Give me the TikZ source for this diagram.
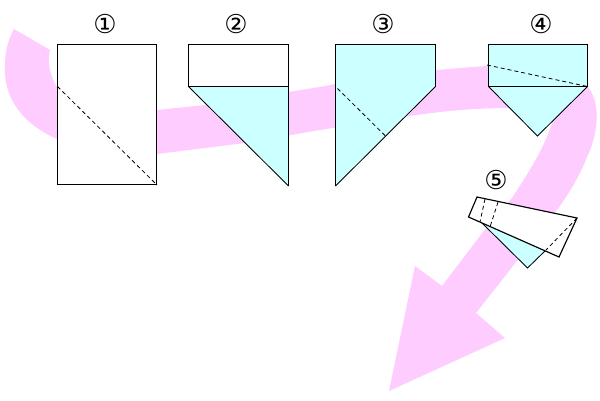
\documentclass[tikz,border=0pt]{standalone}
\usepackage{fontspec}
\setmainfont{DejaVu Sans}
\definecolor{bandpink}{HTML}{FFCCFF}
\definecolor{foldcyan}{HTML}{CCFFFF}
\tikzset{
  paper/.style={draw=black,line width=1.15pt,line join=miter},
  fold/.style={draw=black,line width=0.85pt},
  crease/.style={draw=black,line width=0.8pt,dash pattern=on 4pt off 3pt},
  num/.style={font=\fontsize{26}{26}\selectfont,inner sep=0pt,text=black}
}
\begin{document}
\begin{tikzpicture}[x=1pt,y=-1pt]
\useasboundingbox (0,0) rectangle (600,400);
\fill[white] (0,0) rectangle (600,400);
% pink arrow band
\fill[bandpink] (14,29) -- (50,50)
  .. controls (47,62) and (50,76) .. (57,87)
  -- (157,110) -- (205,105) -- (288,92) -- (320,87)
  .. controls (375,76) and (440,69) .. (487,66)
  -- (587,86)
  .. controls (600,100) and (600,130) .. (587,157)
  .. controls (580,175) and (570,192) .. (557,210)
  -- (476,313) -- (505,338) -- (389,391) -- (415,266) -- (442,286)
  -- (483,232)
  -- (512,198)
  .. controls (525,178) and (545,148) .. (553,120)
  .. controls (545,110) and (530,107) .. (510,108)
  .. controls (470,108) and (435,112) .. (403,117)
  -- (320,130) -- (245,143) -- (157,154) -- (57,139)
  .. controls (25,125) and (3,100) .. (5,65)
  .. controls (5,50) and (9,38) .. (14,29) -- cycle;
% 1
\draw[paper,fill=white] (57.5,44.5) rectangle (156.5,184.5);
\draw[crease] (57.5,86.5) -- (157,185);
% 2
\fill[foldcyan] (188.5,86.5) -- (288.5,86.5) -- (288.5,186) -- cycle;
\draw[paper,fill=white] (188.5,44.5) rectangle (288.5,86.5);
\draw[fold] (188.5,86.5) -- (288.5,186);
\draw[paper] (288.5,86.5) -- (288.5,186);
% 3
\fill[foldcyan] (335.5,44.5) -- (435.5,44.5) -- (435.5,86.5) -- (335.5,186) -- cycle;
\draw[paper] (335.5,186) -- (335.5,44.5) -- (435.5,44.5) -- (435.5,86.5);
\draw[fold] (435.5,86.5) -- (335.5,186);
\draw[crease] (337.5,88.5) -- (385.5,136);
% 4
\fill[foldcyan] (488.5,44.5) rectangle (587.5,86.5);
\fill[foldcyan] (488.5,86.5) -- (587.5,86.5) -- (537.5,136) -- cycle;
\draw[paper] (488.5,44.5) rectangle (587.5,86.5);
\draw[fold] (488.5,86.5) -- (537.5,136) -- (587.5,86.5);
\draw[crease] (487,65) -- (587.5,86.5);
% 5
\fill[foldcyan] (481,222) -- (527.5,268) -- (546,250) -- cycle;
\draw[fold] (481,222) -- (527.5,268) -- (546,250);
\fill[white] (477,197) -- (577,218) -- (559,257) -- (468.5,217) -- cycle;
\draw[paper] (477,197) -- (577,218) -- (559,257) -- (468.5,217) -- cycle;
\draw[crease] (485,199) -- (480,222);
\draw[crease] (498,202) -- (490,227);
\draw[crease] (577,218) -- (546,250);
% numbers
\node[num] (n1) at (105,24) {①};
\node[num] (n2) at (236,24) {②};
\node[num] (n3) at (383,24) {③};
\node[num] (n4) at (541,24) {④};
\node[num] (n5) at (496,180) {⑤};
\end{tikzpicture}
\end{document}
